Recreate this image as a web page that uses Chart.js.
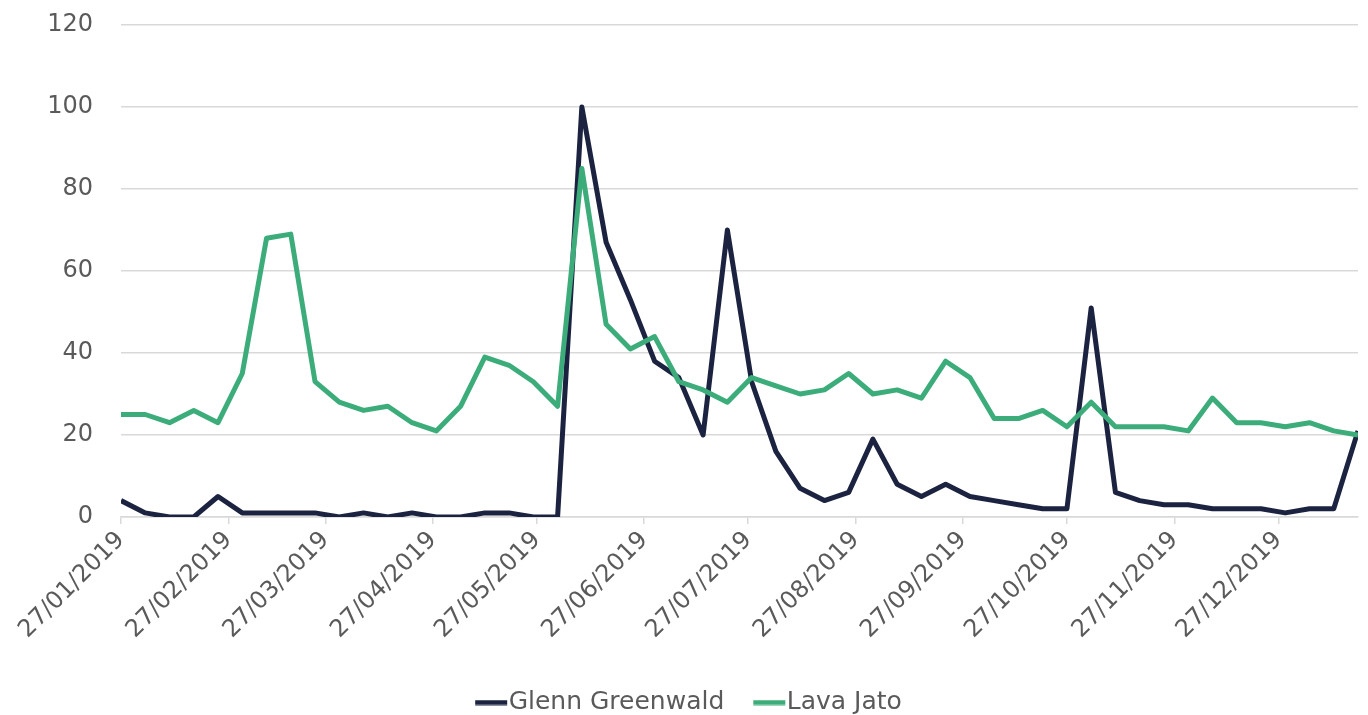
<!DOCTYPE html>
<html>
<head>
<meta charset="utf-8">
<script src="https://cdn.jsdelivr.net/npm/chart.js@4.4.1/dist/chart.umd.min.js"></script>
<style>
  html, body { margin: 0; padding: 0; background: #ffffff; }
  #wrap { width: 1368px; height: 715px; position: relative; }
</style>
</head>
<body>
<div id="wrap"><canvas id="chart"></canvas></div>
<script>
// Weekly observation dates (Sundays)
const weeks = [
  '2019-01-27','2019-02-03','2019-02-10','2019-02-17','2019-02-24','2019-03-03','2019-03-10','2019-03-17',
  '2019-03-24','2019-03-31','2019-04-07','2019-04-14','2019-04-21','2019-04-28','2019-05-05','2019-05-12',
  '2019-05-19','2019-05-26','2019-06-02','2019-06-09','2019-06-16','2019-06-23','2019-06-30','2019-07-07',
  '2019-07-14','2019-07-21','2019-07-28','2019-08-04','2019-08-11','2019-08-18','2019-08-25','2019-09-01',
  '2019-09-08','2019-09-15','2019-09-22','2019-09-29','2019-10-06','2019-10-13','2019-10-20','2019-10-27',
  '2019-11-03','2019-11-10','2019-11-17','2019-11-24','2019-12-01','2019-12-08','2019-12-15','2019-12-22',
  '2019-12-29','2020-01-05','2020-01-12','2020-01-19'
];

// Search interest, Glenn Greenwald
const glennGreenwald = [
  4, 1, 0, 0, 5, 1, 1, 1, 1, 0, 1, 0, 1, 0, 0, 1, 1, 0, 0, 100,
  67, 53, 38, 34, 20, 70, 33, 16, 7, 4, 6, 19, 8, 5, 8, 5, 4, 3, 2, 2,
  51, 6, 4, 3, 3, 2, 2, 2, 1, 2, 2, 21
];

// Search interest, Lava Jato
const lavaJato = [
  25, 25, 23, 26, 23, 35, 68, 69, 33, 28, 26, 27, 23, 21, 27, 39, 37, 33, 27, 85,
  47, 41, 44, 33, 31, 28, 34, 32, 30, 31, 35, 30, 31, 29, 38, 34, 24, 24, 26, 22,
  28, 22, 22, 22, 21, 29, 23, 23, 22, 23, 21, 20
];

// Monthly tick labels on the date axis
const tickLabels = [
  '27/01/2019','27/02/2019','27/03/2019','27/04/2019','27/05/2019','27/06/2019',
  '27/07/2019','27/08/2019','27/09/2019','27/10/2019','27/11/2019','27/12/2019'
];

const yTicks = [0, 20, 40, 60, 80, 100, 120];

const NAVY = '#1b2341';
const GREEN = '#3cad7a';
const GREY_TEXT = '#5a5a5a';
const GRID = '#d9d9d9';
const FONT = "'DejaVu Sans', sans-serif";

const DAY = 86400000;
const origin = Date.UTC(2019, 0, 27);
const isoToDay = s => { const [y, m, d] = s.split('-').map(Number); return Math.round((Date.UTC(y, m - 1, d) - origin) / DAY); };
const labelToDay = s => { const [d, m, y] = s.split('/').map(Number); return Math.round((Date.UTC(y, m - 1, d) - origin) / DAY); };

const weekDays = weeks.map(isoToDay);
const tickDays = tickLabels.map(labelToDay);
const toPoints = arr => arr.map((v, i) => ({ x: weekDays[i], y: v }));

// Legend key: a short thick dash that sits right against its label
function legendDash(color) {
  const c = document.createElement('canvas');
  c.width = 54; c.height = 6;
  const g = c.getContext('2d');
  g.fillStyle = color;
  g.fillRect(16, 0.5, 32, 5);
  return c;
}
const legendMarks = [legendDash(NAVY), legendDash(GREEN)];

new Chart(document.getElementById('chart'), {
  type: 'line',
  data: {
    datasets: [
      {
        label: 'Glenn Greenwald',
        data: toPoints(glennGreenwald),
        borderColor: NAVY,
        backgroundColor: NAVY,
        borderWidth: 5,
        borderJoinStyle: 'round',
        pointRadius: 0,
        tension: 0,
        order: 1
      },
      {
        label: 'Lava Jato',
        data: toPoints(lavaJato),
        borderColor: GREEN,
        backgroundColor: GREEN,
        borderWidth: 5,
        borderJoinStyle: 'round',
        pointRadius: 0,
        tension: 0,
        order: 0
      }
    ]
  },
  options: {
    responsive: true,
    maintainAspectRatio: false,
    animation: false,
    layout: { padding: { top: 25, right: 10, bottom: -10, left: 20 } },
    plugins: {
      tooltip: { enabled: false },
      legend: {
        position: 'bottom',
        labels: {
          font: { family: FONT, size: 25 },
          color: GREY_TEXT,
          usePointStyle: true,
          pointStyleWidth: 20,
          boxHeight: 6,
          padding: 30,
          sort: (a, b) => a.datasetIndex - b.datasetIndex,
          generateLabels: chart =>
            Chart.defaults.plugins.legend.labels.generateLabels(chart)
              .map(item => Object.assign(item, { pointStyle: legendMarks[item.datasetIndex] }))
        }
      }
    },
    scales: {
      x: {
        type: 'linear',
        min: 0,
        max: weekDays[weekDays.length - 1],
        afterBuildTicks: scale => { scale.ticks = tickDays.map(v => ({ value: v })); },
        afterFit: scale => { scale.height = 143; },
        ticks: {
          autoSkip: false,
          minRotation: 45,
          maxRotation: 45,
          padding: 2,
          font: { family: FONT, size: 24 },
          color: GREY_TEXT,
          callback: value => tickLabels[tickDays.indexOf(value)]
        },
        grid: { drawOnChartArea: false, drawTicks: true, tickLength: 7, color: GRID, lineWidth: 1.5 },
        border: { display: true, color: GRID, width: 1.5 }
      },
      y: {
        min: 0,
        max: 120,
        afterBuildTicks: scale => { scale.ticks = yTicks.map(v => ({ value: v })); },
        afterFit: scale => { scale.width = 101; },
        ticks: {
          padding: 0,
          font: { family: FONT, size: 24 },
          color: GREY_TEXT
        },
        grid: { color: GRID, lineWidth: 1.5, drawTicks: true, tickLength: 28, tickColor: 'rgba(0,0,0,0)' },
        border: { display: false }
      }
    }
  }
});
</script>
</body>
</html>
